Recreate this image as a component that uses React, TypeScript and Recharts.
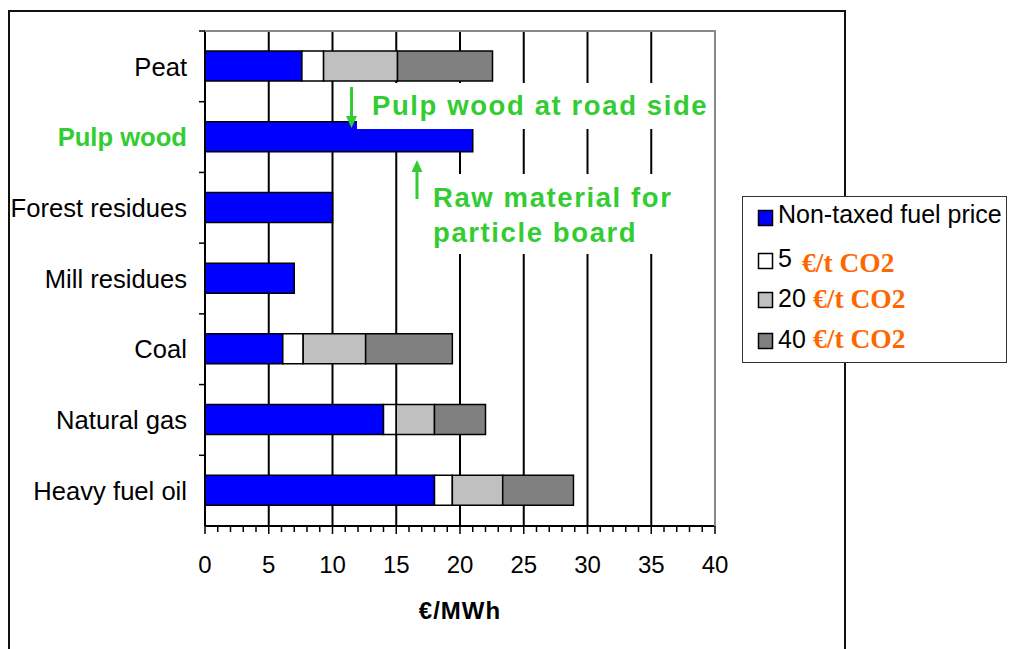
import { BarChart, Bar, XAxis, YAxis, CartesianGrid, Legend } from 'recharts'

const fuels = ['Peat', 'Pulp wood', 'Forest residues', 'Mill residues', 'Coal', 'Natural gas', 'Heavy fuel oil']
const basePrice = [7.6, 21, 10, 7, 6.1, 14, 18]
const tax5 = [1.7, null, null, null, 1.6, 1.0, 1.4]
const tax20 = [5.8, null, null, null, 4.9, 3.0, 3.95]
const tax40 = [7.45, null, null, null, 6.8, 4.0, 5.55]

const xTickLabels = [0, 5, 10, 15, 20, 25, 30, 35, 40]
const gridValues = [5, 10, 15, 20, 25, 30, 35]
const minorTicks = Array.from({ length: 41 }, (_, i) => i)

const legendLabels = ['Non-taxed fuel price', '5', '20', '40']
const legendColors = ['#0000FF', '#FFFFFF', '#C0C0C0', '#808080']
const co2Unit = '€/t CO2'

const highlight = 'Pulp wood'
const green = '#33CC33'
const orange = '#FF6600'
const sans = '"Liberation Sans", Arial, sans-serif'
const serif = '"Liberation Serif", "Times New Roman", serif'

const chartData = fuels.map((fuel, i) => ({
  fuel,
  base: basePrice[i],
  t5: tax5[i],
  t20: tax20[i],
  t40: tax40[i],
}))

const W = 1012
const H = 649
const PLOT_TOP = 31
const PLOT_BOTTOM = 526
const BAND = (PLOT_BOTTOM - PLOT_TOP) / fuels.length

function FuelTick({ x, y, payload }: any) {
  const isHighlight = payload.value === highlight
  return (
    <g>
      <line x1={x + 12} x2={x + 18} y1={y - BAND / 2} y2={y - BAND / 2} stroke="#000" strokeWidth={1.5} />
      <text
        x={x}
        y={y}
        dy="0.36em"
        textAnchor="end"
        fontFamily={sans}
        fontSize={25.6}
        fontWeight={isHighlight ? 'bold' : 'normal'}
        fill={isHighlight ? green : '#000'}
      >
        {payload.value}
      </text>
    </g>
  )
}

function PriceTick({ x, y, payload }: any) {
  const major = xTickLabels.includes(payload.value)
  return (
    <g>
      <line x1={x} x2={x} y1={y} y2={y + (major ? 8 : 6)} stroke="#000" strokeWidth={1.5} />
      {major && (
        <text x={x} y={y + 47} textAnchor="middle" fontFamily={sans} fontSize={24} fill="#000">
          {payload.value}
        </text>
      )}
    </g>
  )
}

function TaxLegend() {
  const rows = [
    { sq: 14, txt: 27, unit: null },
    { sq: 57, txt: 71, unit: 76 },
    { sq: 96, txt: 111, unit: 112 },
    { sq: 137, txt: 152, unit: 152 },
  ]
  return (
    <svg width={265} height={167} style={{ display: 'block', background: '#fff' }}>
      <rect x={0.5} y={0.5} width={264} height={166} fill="#fff" stroke="#333" strokeWidth={1} />
      {rows.map((r, i) => (
        <g key={legendLabels[i]}>
          <rect x={16.5} y={r.sq + 0.5} width={14} height={15} fill={legendColors[i]} stroke="#000" strokeWidth={1.5} />
          <text x={36} y={r.txt} fontFamily={sans} fontSize={25} fill="#000">
            {legendLabels[i]}
          </text>
          {r.unit != null && (
            <text x={i === 1 ? 60 : 71} y={r.unit} fontFamily={serif} fontWeight="bold" fontSize={27.5} fill={orange}>
              {co2Unit}
            </text>
          )}
        </g>
      ))}
    </svg>
  )
}

function Annotations() {
  return (
    <svg width={W} height={H} style={{ position: 'absolute', left: 0, top: 0, pointerEvents: 'none' }}>
      {/* plot frame, top and right */}
      <polyline points={`205,${PLOT_TOP} 715,${PLOT_TOP} 715,${PLOT_BOTTOM}`} fill="none" stroke="#888" strokeWidth={2} />
      {/* text boxes sit over the grid */}
      <rect x={357} y={83} width={357} height={46} fill="#fff" />
      <rect x={425} y={174} width={285} height={80} fill="#fff" />
      <g fontFamily={sans} fontWeight="bold" fontSize={27.5} fill={green} letterSpacing={1.6}>
        <text x={372} y={115}>Pulp wood at road side</text>
        <text x={433} y={207}>Raw material for</text>
        <text x={433} y={242}>particle board</text>
      </g>
      {/* arrows */}
      <line x1={351.5} x2={351.5} y1={87} y2={118} stroke={green} strokeWidth={3} />
      <polygon points="346,116 357,116 351.5,128" fill={green} />
      <line x1={417} x2={417} y1={170} y2={199} stroke={green} strokeWidth={3} />
      <polygon points="411.5,172 422.5,172 417,160" fill={green} />
    </svg>
  )
}

export default function App() {
  return (
    <div style={{ position: 'fixed', left: 0, top: 0, width: W, height: H, overflow: 'hidden', background: '#fff' }}>
      <div
        style={{
          position: 'absolute',
          left: 8,
          top: 10,
          width: 838,
          height: 700,
          border: '2px solid #111',
          boxSizing: 'border-box',
        }}
      />
      <div style={{ position: 'absolute', left: 0, top: 0 }}>
        <BarChart
          width={W}
          height={H}
          data={chartData}
          layout="vertical"
          margin={{ top: PLOT_TOP, right: 297, bottom: 0, left: 8 }}
          barCategoryGap={0}
        >
          <CartesianGrid horizontal={false} verticalValues={gridValues} stroke="#000" strokeWidth={2} />
          <XAxis
            type="number"
            domain={[0, 40]}
            ticks={minorTicks}
            interval={0}
            height={123}
            tickSize={0}
            tickMargin={0}
            tickLine={false}
            axisLine={{ stroke: '#000', strokeWidth: 2 }}
            tick={<PriceTick />}
            label={{
              value: '€/MWh',
              position: 'insideBottom',
              offset: 30,
              fontFamily: sans,
              fontWeight: 'bold',
              fontSize: 24,
              fill: '#000',
              letterSpacing: 1,
            }}
          />
          <YAxis
            type="category"
            dataKey="fuel"
            width={197}
            tickSize={6}
            tickMargin={12}
            tickLine={false}
            axisLine={{ stroke: '#000', strokeWidth: 2 }}
            tick={<FuelTick />}
            interval={0}
          />
          <Bar dataKey="base" stackId="price" fill={legendColors[0]} stroke="#000" strokeWidth={1.5} barSize={30} isAnimationActive={false} />
          <Bar dataKey="t5" stackId="price" fill={legendColors[1]} stroke="#000" strokeWidth={1.5} barSize={30} isAnimationActive={false} />
          <Bar dataKey="t20" stackId="price" fill={legendColors[2]} stroke="#000" strokeWidth={1.5} barSize={30} isAnimationActive={false} />
          <Bar dataKey="t40" stackId="price" fill={legendColors[3]} stroke="#000" strokeWidth={1.5} barSize={30} isAnimationActive={false} />
          <Legend
            layout="vertical"
            align="center"
            verticalAlign="middle"
            content={() => <TaxLegend />}
            wrapperStyle={{ left: 742, top: 196, width: 265, height: 167 }}
          />
        </BarChart>
      </div>
      <Annotations />
    </div>
  )
}
